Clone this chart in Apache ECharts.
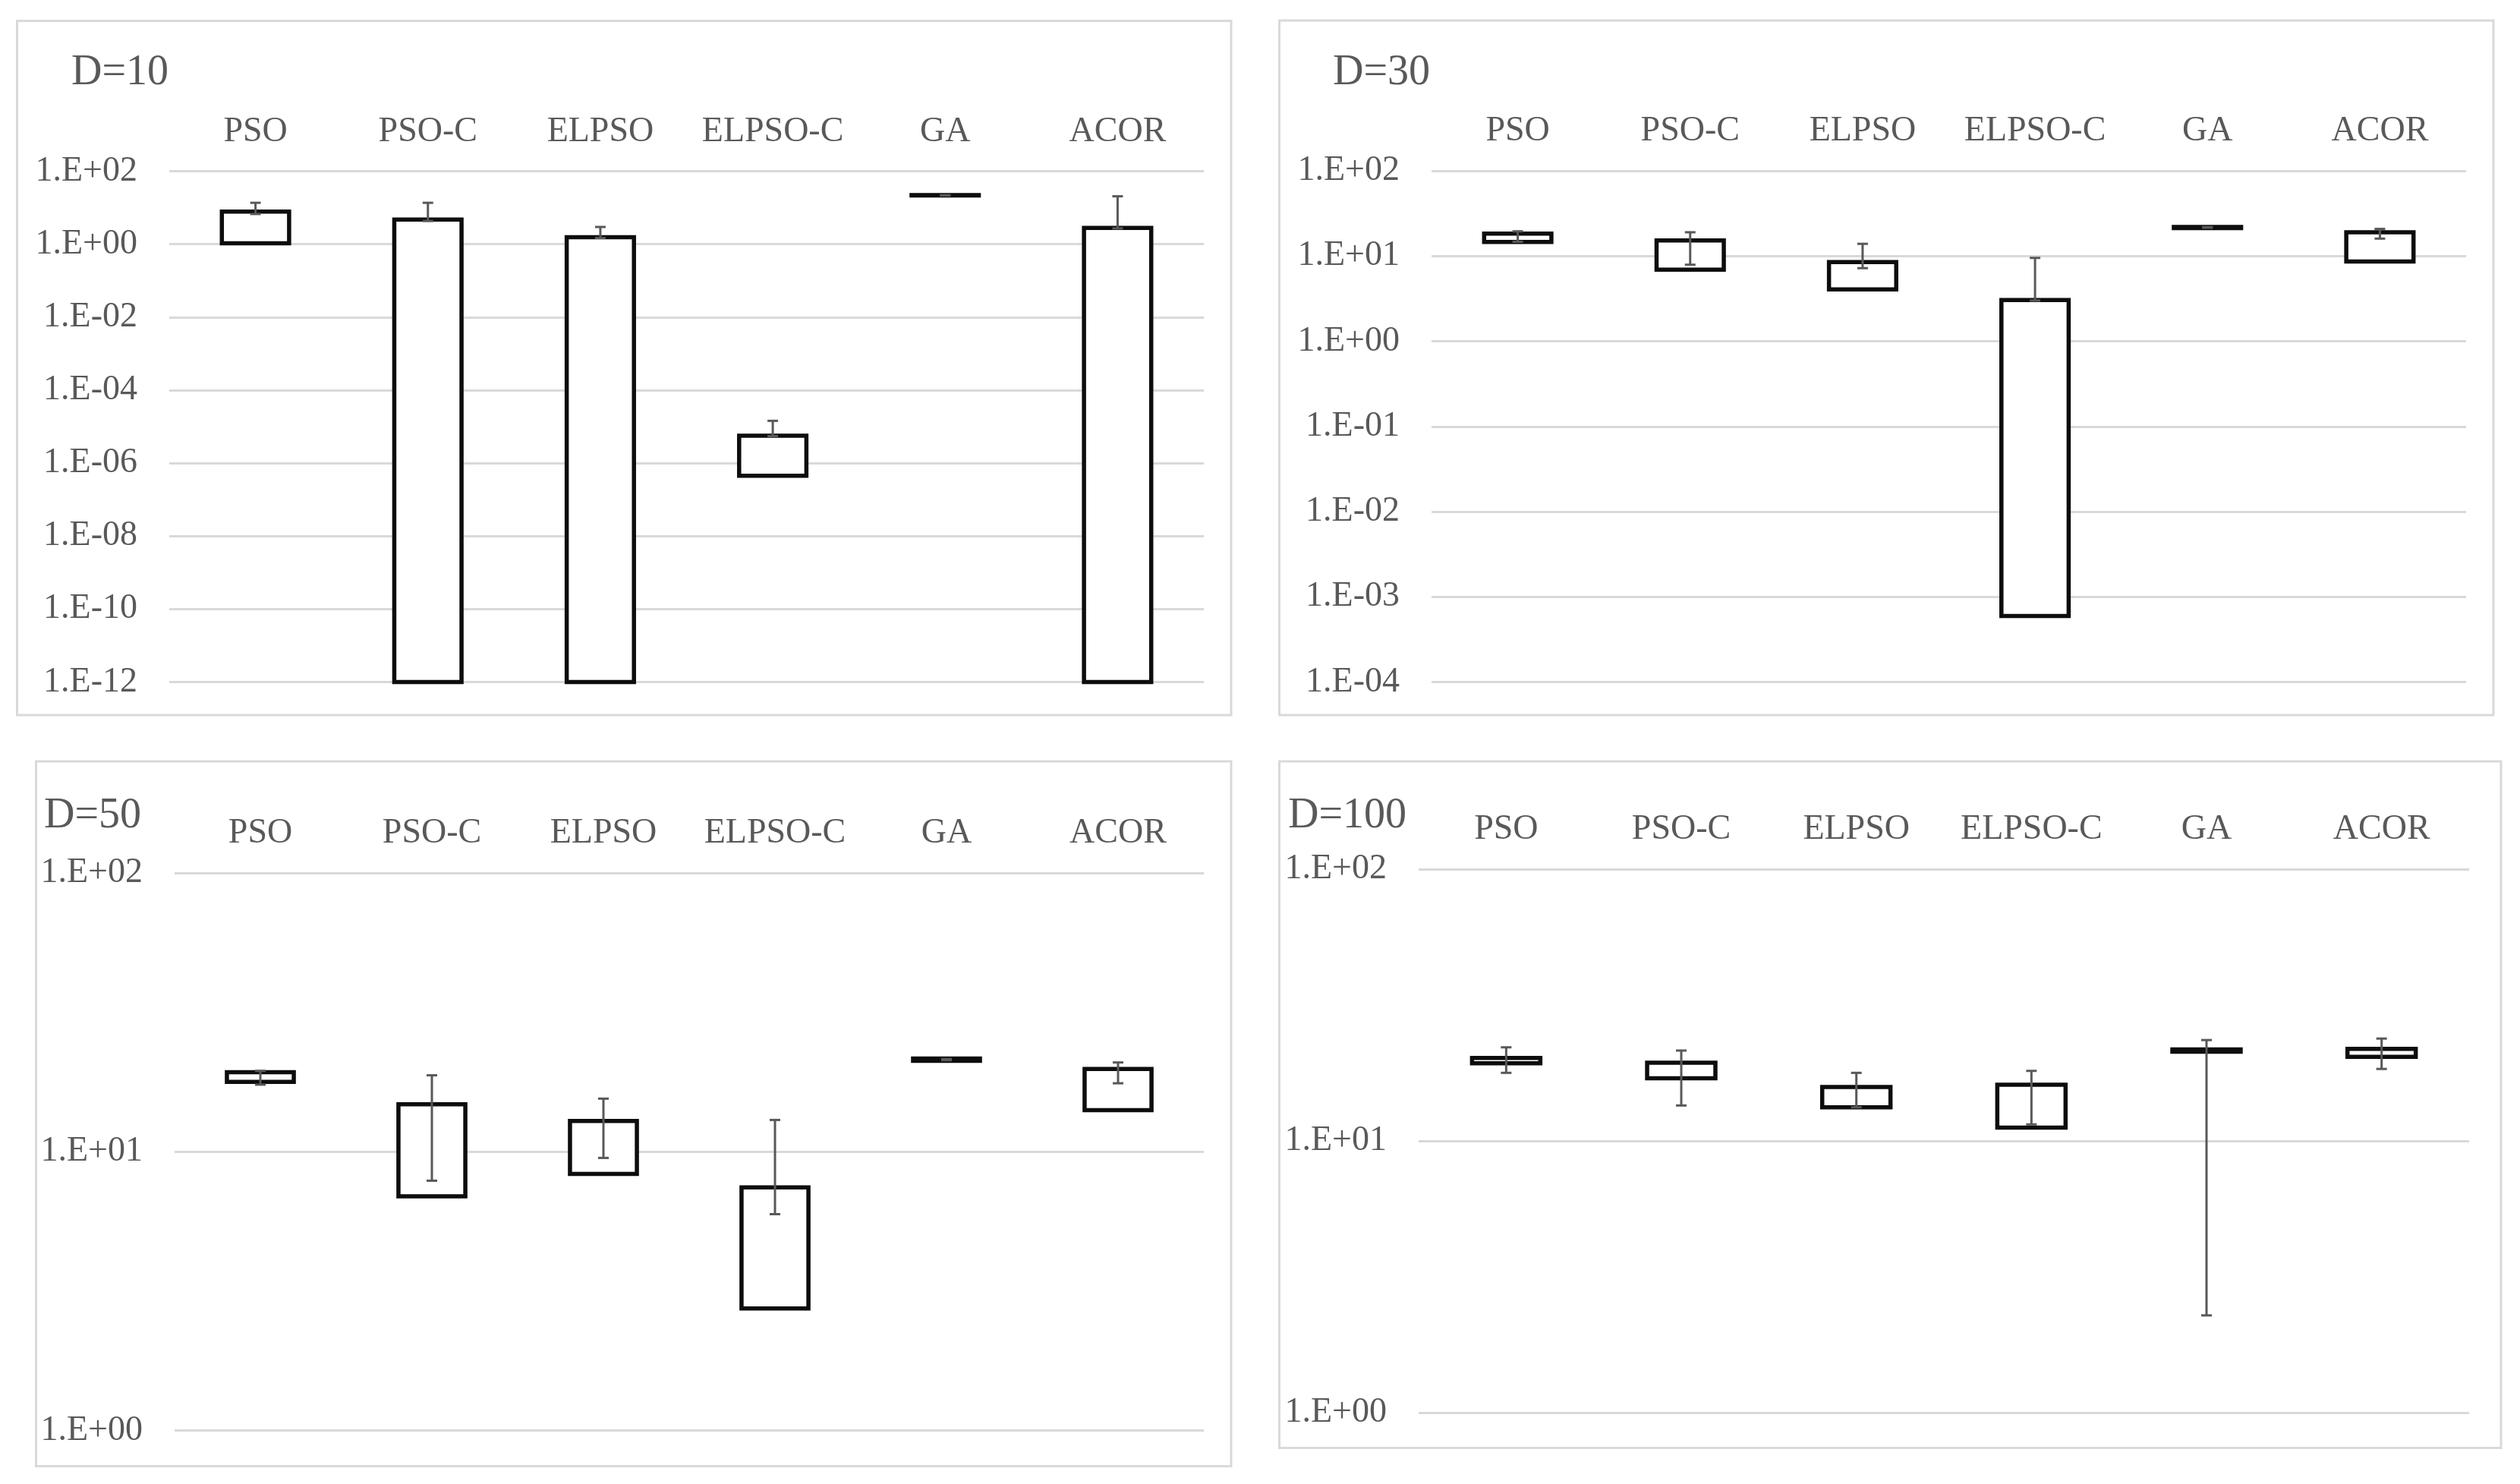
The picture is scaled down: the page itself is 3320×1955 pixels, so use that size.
<!DOCTYPE html>
<html>
<head>
<meta charset="utf-8">
<script src="https://cdn.jsdelivr.net/npm/echarts@6.0.0/dist/echarts.min.js"></script>
<style>
html, body { margin: 0; padding: 0; background: #fff; }
#main { width: 3320px; height: 1955px; }
</style>
</head>
<body>
<div id="main"></div>
<script>
var categories = ['PSO', 'PSO-C', 'ELPSO', 'ELPSO-C', 'GA', 'ACOR'];
var panelTitles = ['D=10', 'D=30', 'D=50', 'D=100'];

// D=10
var d10BoxLow = [1.05, 1e-12, 1e-12, 4.5e-7, 21.5, 1e-12];
var d10BoxHigh = [7.8, 4.7, 1.55, 5.6e-6, 22.0, 2.8];
var d10WhiskerLow = [6.7, 4.3, 1.47, 5.5e-6, 21.6, 2.7];
var d10WhiskerHigh = [13.6, 13.6, 2.96, 1.44e-5, 21.9, 20.5];

// D=30
var d30BoxLow = [14.6, 6.9, 4.05, 5.97e-4, 21.3, 8.6];
var d30BoxHigh = [18.3, 15.2, 8.5, 3.04, 21.9, 19.0];
var d30WhiskerLow = [14.7, 7.9, 7.2, 3.0, 21.5, 16.0];
var d30WhiskerHigh = [19.5, 19.0, 13.9, 9.5, 21.8, 20.8];

// D=50
var d50BoxLow = [17.8, 6.92, 8.32, 2.74, 21.2, 14.1];
var d50BoxHigh = [19.3, 14.8, 12.9, 7.45, 21.6, 19.8];
var d50WhiskerLow = [17.4, 7.87, 9.5, 5.97, 21.3, 17.6];
var d50WhiskerHigh = [19.5, 18.8, 15.5, 13.0, 21.5, 20.9];

// D=100
var d100BoxLow = [19.3, 17.0, 13.3, 11.2, 21.3, 20.4];
var d100BoxHigh = [20.2, 19.4, 15.8, 16.1, 21.7, 21.8];
var d100WhiskerLow = [17.8, 13.5, 13.3, 11.5, 2.28, 18.4];
var d100WhiskerHigh = [22.1, 21.5, 17.8, 18.1, 23.5, 23.8];

// y axis ranges (decades between ticks)
var yMin = [1e-12, 1e-4, 1, 1];
var yMax = [1e2, 1e2, 1e2, 1e2];
var yStep = [2, 1, 1, 1];

var boxLow = [d10BoxLow, d30BoxLow, d50BoxLow, d100BoxLow];
var boxHigh = [d10BoxHigh, d30BoxHigh, d50BoxHigh, d100BoxHigh];
var whiskerLow = [d10WhiskerLow, d30WhiskerLow, d50WhiskerLow, d100WhiskerLow];
var whiskerHigh = [d10WhiskerHigh, d30WhiskerHigh, d50WhiskerHigh, d100WhiskerHigh];

// layout
var grids = [
	{left: 223, top: 225.5, width: 1363, height: 673},
	{left: 1886, top: 225, width: 1363, height: 673.5},
	{left: 230, top: 1150, width: 1356, height: 734.5},
	{left: 1869, top: 1145, width: 1384, height: 716}
];
var frames = [
	{x: 22.5, y: 27.5, width: 1599.5, height: 914.5},
	{x: 1685.5, y: 27, width: 1599.5, height: 915},
	{x: 47.5, y: 1003, width: 1574.5, height: 928.5},
	{x: 1685.5, y: 1003, width: 1609.5, height: 904.5}
];
var titlePos = [
	{left: 94, top: 68},
	{left: 1756, top: 68},
	{left: 58, top: 1047},
	{left: 1697, top: 1047}
];

var fontName = '"Liberation Serif", "Times New Roman", serif';
var textColor = '#595959';

function sciLabel(v) {
	var e = Math.round(Math.log(v) / Math.LN10);
	var s = String(Math.abs(e));
	if (s.length < 2) s = '0' + s;
	return '1.E' + (e < 0 ? '-' : '+') + s;
}

function renderBox(params, api) {
	var x = api.value(0);
	var lo = api.coord([x, api.value(1)]);
	var hi = api.coord([x, api.value(2)]);
	var wl = api.coord([x, api.value(3)]);
	var wh = api.coord([x, api.value(4)]);
	var bw = api.size([1, 1])[0] * 0.39;
	var cap = 7;
	var wStyle = {stroke: '#595959', lineWidth: 3};
	return {
		type: 'group',
		children: [
			{type: 'rect', shape: {x: lo[0] - bw / 2, y: hi[1], width: bw, height: lo[1] - hi[1]},
				style: {fill: '#ffffff', stroke: '#0d0d0d', lineWidth: 5.5}},
			{type: 'line', shape: {x1: wl[0], y1: wl[1], x2: wh[0], y2: wh[1]}, style: wStyle},
			{type: 'line', shape: {x1: wl[0] - cap, y1: wl[1], x2: wl[0] + cap, y2: wl[1]}, style: wStyle},
			{type: 'line', shape: {x1: wh[0] - cap, y1: wh[1], x2: wh[0] + cap, y2: wh[1]}, style: wStyle}
		]
	};
}

var option = {
	backgroundColor: '#ffffff',
	animation: false,
	title: [],
	grid: [],
	xAxis: [],
	yAxis: [],
	series: [],
	graphic: []
};

for (var p = 0; p < 4; p++) {
	option.graphic.push({
		type: 'rect',
		shape: frames[p],
		style: {fill: 'none', stroke: '#d9d9d9', lineWidth: 3},
		silent: true
	});
	option.title.push({
		text: panelTitles[p],
		left: titlePos[p].left,
		top: titlePos[p].top,
		padding: 0,
		textStyle: {fontFamily: fontName, fontSize: 56, fontWeight: 'normal', color: textColor, lineHeight: 56}
	});
	option.grid.push({left: grids[p].left, top: grids[p].top, width: grids[p].width, height: grids[p].height});
	option.xAxis.push({
		type: 'category',
		gridIndex: p,
		position: 'top',
		data: categories,
		axisLine: {show: false},
		axisTick: {show: false},
		splitLine: {show: false},
		axisLabel: {fontFamily: fontName, fontSize: 46, color: textColor, margin: 29, lineHeight: 46, interval: 0}
	});
	option.yAxis.push({
		type: 'log',
		gridIndex: p,
		logBase: 10,
		min: yMin[p],
		max: yMax[p],
		interval: yStep[p],
		axisLine: {show: false},
		axisTick: {show: false},
		minorTick: {show: false},
		splitLine: {show: true, lineStyle: {color: '#d9d9d9', width: 3}},
		axisLabel: {fontFamily: fontName, fontSize: 46, color: textColor, margin: 42, formatter: sciLabel}
	});
	var rows = [];
	for (var k = 0; k < categories.length; k++) {
		rows.push([k, boxLow[p][k], boxHigh[p][k], whiskerLow[p][k], whiskerHigh[p][k]]);
	}
	option.series.push({
		type: 'custom',
		xAxisIndex: p,
		yAxisIndex: p,
		renderItem: renderBox,
		encode: {x: 0, y: [1, 2, 3, 4]},
		clip: false,
		data: rows
	});
}

var myChart = echarts.init(document.getElementById('main'));
myChart.setOption(option);
</script>
</body>
</html>
